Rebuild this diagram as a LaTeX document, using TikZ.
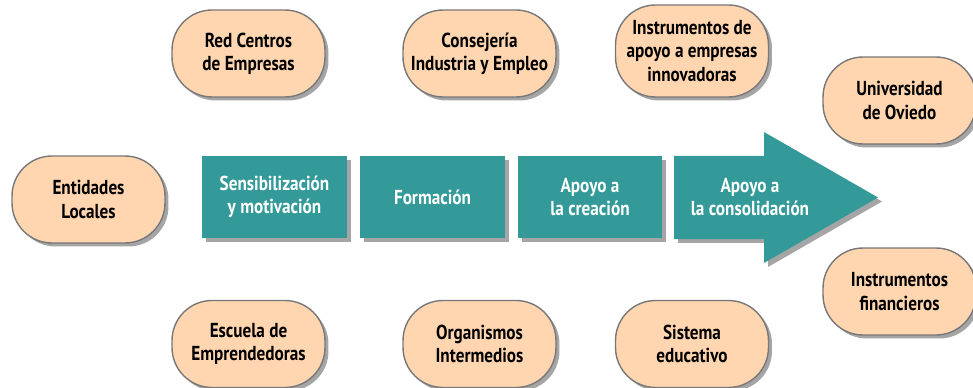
\documentclass[tikz,border=0pt]{standalone}
\usepackage{fontspec}
\setmainfont{PT Sans}[FakeStretch=0.85]
\usetikzlibrary{shadows}
\definecolor{peach}{RGB}{255,214,176}
\definecolor{tealbox}{RGB}{51,153,153}
\definecolor{rim}{RGB}{120,120,120}
\definecolor{shade}{RGB}{165,165,165}
\tikzset{
  agent/.style={draw=rim, line width=0.8pt, fill=peach, rounded corners=0.8cm,
    minimum width=3.06cm, minimum height=1.74cm, align=center,
    font=\fontsize{11.5}{13.2}\selectfont\bfseries,
    drop shadow={opacity=1, fill=shade, shadow xshift=0.07cm, shadow yshift=-0.07cm}},
  phase/.style={fill=tealbox, text=white, minimum width=2.9cm, minimum height=1.64cm,
    align=center, font=\fontsize{11.5}{13.2}\selectfont\bfseries,
    drop shadow={opacity=1, fill=shade, shadow xshift=0.08cm, shadow yshift=-0.08cm}}
}
\begin{document}
\begin{tikzpicture}[x=0.02cm, y=-0.02cm]
        \useasboundingbox (0,0) rectangle (973,388);

        % phases
        \node[phase] (sens) at (274.5,197) {Sensibilización\\y motivación};
        \node[phase] (form) at (432.5,197) {Formación};
        \node[phase] (crea) at (590,197) {Apoyo a\\la creación};
        \fill[tealbox, drop shadow={opacity=1, fill=shade, shadow xshift=0.08cm, shadow yshift=-0.08cm}]
            (674,156) -- (764,156) -- (764,132) -- (878,197.5) -- (764,263) -- (764,239) -- (674,239) -- cycle;
        \node[text=white, align=center, font=\fontsize{11.5}{13.2}\selectfont\bfseries] (consol) at (750,197) {Apoyo a\\la consolidación};

        % agents
        \node[agent] (redc) at (248.5,53.5) {Red Centros\\de Empresas};
        \node[agent] (cnsj) at (479.5,53.5) {Consejería\\Industria y Empleo};
        \node[agent, minimum height=1.84cm] (inst) at (692,51) {Instrumentos de\\apoyo a empresas\\innovadoras};
        \node[agent] (univ) at (899.5,100.5) {Universidad\\de Oviedo};
        \node[agent] (enti) at (88.5,199.5) {Entidades\\Locales};
        \node[agent] (fina) at (899.5,291.5) {Instrumentos\\financieros};
        \node[agent] (escu) at (248.5,344) {Escuela de\\Emprendedoras};
        \node[agent] (orga) at (479.5,344) {Organismos\\Intermedios};
        \node[agent] (sist) at (692,344) {Sistema\\educativo};
\end{tikzpicture}
\end{document}
